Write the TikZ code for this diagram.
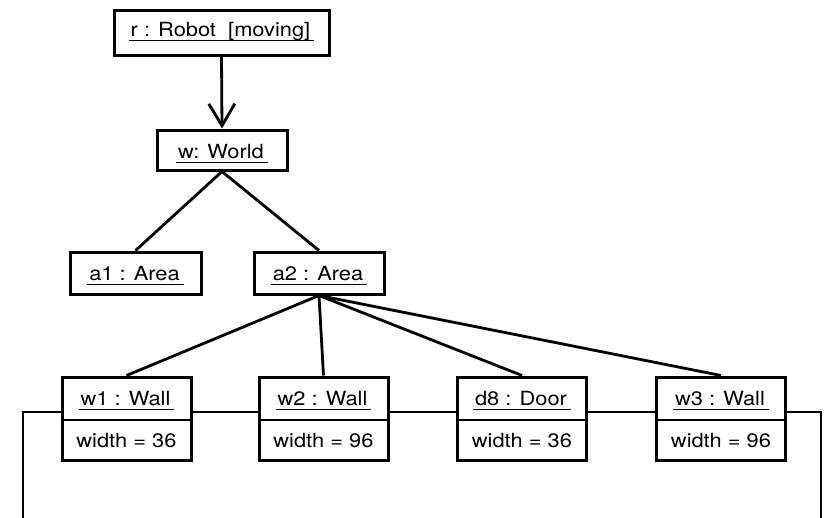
\documentclass[tikz,border=0pt]{standalone}
\usepackage{fontspec}
\usepackage{graphicx}
\setmainfont{TeX Gyre Heros}
\usetikzlibrary{arrows.meta}
\newcommand\wtxt[1]{\scalebox{1.12}[1]{#1}}
\newcommand\ulbox[1]{\setbox0\hbox{\wtxt{#1}}\hbox{\kern-2pt\rlap{\rule[-4.5pt]{\dimexpr\wd0+6pt\relax}{0.9pt}}\kern2pt\box0\kern2pt}}
\begin{document}
\begin{tikzpicture}[x=1pt,y=-1pt,line width=3pt,
  box/.style={draw,rectangle,inner sep=0pt,fill=white,line width=3pt},
  lbl/.style={inner sep=0pt,anchor=base,font=\fontsize{19.5}{22}\selectfont},
  conn/.style={draw,line width=2.8pt},
  divl/.style={draw,line width=2.4pt}]
\useasboundingbox (0,0) rectangle (825,517);
% top objects
\node[box,minimum width=215pt,minimum height=45pt] (r) at (221.5,32.5) {};
\node[lbl] (rt) at (221.5,36) {\ulbox{r : Robot\ \ [moving]}};
\node[box,minimum width=130pt,minimum height=40pt] (w) at (222,150) {};
\node[lbl] (wt) at (222,158) {\ulbox{w: World}};
\node[box,minimum width=131pt,minimum height=42pt] (a1) at (135.5,273) {};
\node[lbl] (a1t) at (135.5,280.5) {\ulbox{a1 : Area}};
\node[box,minimum width=130pt,minimum height=42pt] (a2) at (319,273) {};
\node[lbl] (a2t) at (319,280.5) {\ulbox{a2 : Area}};
% wall objects
\foreach \n/\x/\t/\v in {w1/126.5/w1 : Wall/width = 36, w2/323.5/w2 : Wall/width = 96, d8/522/d8 : Door/width = 36, w3/721/w3 : Wall/width = 96}{
  \node[box,minimum width=129pt,minimum height=83pt] (\n) at (\x,418.5) {};
  \node[lbl] (\n t) at (\x,405) {\ulbox{\t}};
  \node[lbl] (\n v) at (\x,447) {\wtxt{\v}};
  \draw[divl] ([yshift=-1.5pt]\n.west) -- ([yshift=-1.5pt]\n.east);
}
% connectors
\draw[conn,-{Straight Barb[length=22pt,width=26pt,line width=2.8pt]}] (r.south) -- (w.north);
\draw[conn] (w.south) -- (a1.north);
\draw[conn] (w.south) -- (a2.north);
\foreach \n in {w1,w2,d8,w3}{\draw[conn] (a2.south) -- (\n.north);}
\draw[conn] ([yshift=6.5pt]w1.east) -- ([yshift=6.5pt]w2.west);
\draw[conn] ([yshift=6.5pt]w2.east) -- ([yshift=6.5pt]d8.west);
\draw[conn] ([yshift=6.5pt]d8.east) -- ([yshift=6.5pt]w3.west);
\coordinate (lb) at (23,522);
\coordinate (rb) at (821,522);
\draw[conn] ([yshift=6.5pt]w1.west) -| (lb);
\draw[conn] ([yshift=6.5pt]w3.east) -| (rb);
\end{tikzpicture}
\end{document}
